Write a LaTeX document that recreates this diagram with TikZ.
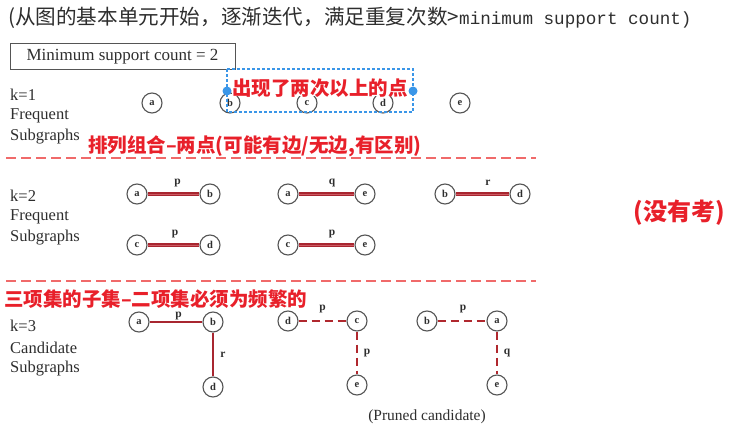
\documentclass[tikz,border=0pt]{standalone}
\usepackage{fontspec}
\setmainfont{Liberation Serif}
\newfontfamily\cjk{Noto Sans CJK SC}
\newfontfamily\mono{Liberation Mono}
\definecolor{txt}{HTML}{2E2E2E}
\definecolor{notered}{HTML}{E8202A}
\definecolor{seprd}{HTML}{F06A6A}
\definecolor{edgedk}{HTML}{A82630}
\definecolor{edgelt}{HTML}{CC5A62}
\definecolor{dashrd}{HTML}{B0282E}
\definecolor{bluebox}{HTML}{3A96E8}
\definecolor{vgray}{HTML}{555555}
\tikzset{
  vtx/.style={circle,draw=vgray,line width=1.1pt,minimum size=20pt,inner sep=0pt,
    text=txt,font=\bfseries\fontsize{10.5}{10.5}\selectfont},
  lbl/.style={anchor=west,text=txt,inner sep=0pt,font=\fontsize{16.5}{16.5}\selectfont},
  elab/.style={text=txt,inner sep=0pt,font=\bfseries\fontsize{11.5}{11.5}\selectfont},
  edgetwo/.style={draw=edgedk,double=edgelt,double distance=0.7pt,line width=1.2pt},
  edgethree/.style={draw=edgedk,line width=1.6pt},
  dedge/.style={draw=dashrd,line width=2.2pt,dash pattern=on 8pt off 5pt},
  sepline/.style={draw=seprd,line width=1.5pt,dash pattern=on 10pt off 5pt},
  note/.style={text=notered,inner sep=1pt,font=\cjk\bfseries\fontsize{19.5}{20}\selectfont},
}
\begin{document}
\begin{tikzpicture}[x=1pt,y=-1pt]
\useasboundingbox (0,0) rectangle (734,433);
% top caption
\node[anchor=west,inner sep=0pt,text=txt] (title) at (8,18)
  {{\cjk\fontsize{20.6}{20}\selectfont (从图的基本单元开始，逐渐迭代，满足重复次数>}{\mono\fontsize{17.6}{20}\selectfont minimum support count)}};
% min support box
\node[draw=vgray,line width=1pt,minimum width=225pt,minimum height=26pt,inner sep=0pt,
  text=txt,font=\fontsize{17}{17}\selectfont] (msc) at (122.5,57) {Minimum support count = 2};
% k=1
\node[lbl] (k1a) at (10,95) {k=1};
\node[lbl] (k1b) at (10,116) {Frequent};
\node[lbl] (k1c) at (10,137) {Subgraphs};
\node[vtx] (oa) at (152,103) {a};
\node[vtx] (ob) at (230,103) {b};
\node[vtx] (oc) at (307,103) {c};
\node[vtx] (od) at (383,103) {d};
\node[vtx] (oe) at (460,103) {e};
% blue selection box
\draw[bluebox,line width=1.2pt,dash pattern=on 3pt off 2pt] (227,69) rectangle (413,112);
\node[note,fill=white,inner sep=0pt,text height=16pt,text depth=0.5pt] (n1) at (320,88) {出现了两次以上的点};
\fill[bluebox] (227,91) circle (4.5pt);
\fill[bluebox] (413,91) circle (4.5pt);
\node[note,anchor=west] (n2) at (87,146) {排列组合–两点(可能有边/无边,有区别)};
\draw[sepline] (6,158) -- (536,158);
% k=2
\node[lbl] (k2a) at (10,196) {k=2};
\node[lbl] (k2b) at (10,217) {Frequent};
\node[lbl] (k2c) at (10,238) {Subgraphs};
\node[vtx] (t1a) at (137,194) {a};
\node[vtx] (t1b) at (210,194) {b};
\node[vtx] (t2a) at (288,194) {a};
\node[vtx] (t2e) at (365,194) {e};
\node[vtx] (t3b) at (445,194) {b};
\node[vtx] (t3d) at (520,194) {d};
\node[vtx] (t4c) at (137,245) {c};
\node[vtx] (t4d) at (210,245) {d};
\node[vtx] (t5c) at (288,245) {c};
\node[vtx] (t5e) at (365,245) {e};
\draw[edgetwo] (t1a) -- node[elab,pos=0.58,yshift=11pt] {p} (t1b);
\draw[edgetwo] (t2a) -- node[elab,pos=0.6,yshift=11pt] {q} (t2e);
\draw[edgetwo] (t3b) -- node[elab,pos=0.6,yshift=11pt] {r} (t3d);
\draw[edgetwo] (t4c) -- node[elab,pos=0.53,yshift=11pt] {p} (t4d);
\draw[edgetwo] (t5c) -- node[elab,pos=0.6,yshift=11pt] {p} (t5e);
\node[note] (nm) at (679,213) {\fontsize{24}{24}\selectfont (没有考)};
\draw[sepline] (6,281) -- (536,281);
% k=3
\node[note,anchor=west,text height=16pt,text depth=0pt] (n3) at (3,298) {三项集的子集–二项集必须为频繁的};
\node[lbl] (k3a) at (10,326) {k=3};
\node[lbl] (k3b) at (10,347.5) {Candidate};
\node[lbl] (k3c) at (10,369) {Subgraphs};
\node[vtx] (h1a) at (139,322) {a};
\node[vtx] (h1b) at (213,322) {b};
\node[vtx] (h1d) at (213,387) {d};
\node[vtx] (h2d) at (288,321) {d};
\node[vtx] (h2c) at (357,321) {c};
\node[vtx] (h2e) at (357,385) {e};
\node[vtx] (h3b) at (427,321) {b};
\node[vtx] (h3a) at (497,321) {a};
\node[vtx] (h3e) at (497,385) {e};
\draw[edgethree] (h1a) -- node[elab,pos=0.55,yshift=6pt] {p} (h1b);
\draw[edgethree] (h1b) -- node[elab,pos=0.5,xshift=10pt] {r} (h1d);
\draw[dedge] (h2d) -- node[elab,pos=0.5,yshift=12pt] {p} (h2c);
\draw[dedge] (h2c) -- node[elab,pos=0.5,xshift=10pt] {p} (h2e);
\draw[dedge] (h3b) -- node[elab,pos=0.52,yshift=12pt] {p} (h3a);
\draw[dedge] (h3a) -- node[elab,pos=0.5,xshift=10pt] {q} (h3e);
\node[text=txt,inner sep=0pt,font=\fontsize{15.5}{15.5}\selectfont] (pc) at (427,417) {(Pruned candidate)};
\end{tikzpicture}
\end{document}
